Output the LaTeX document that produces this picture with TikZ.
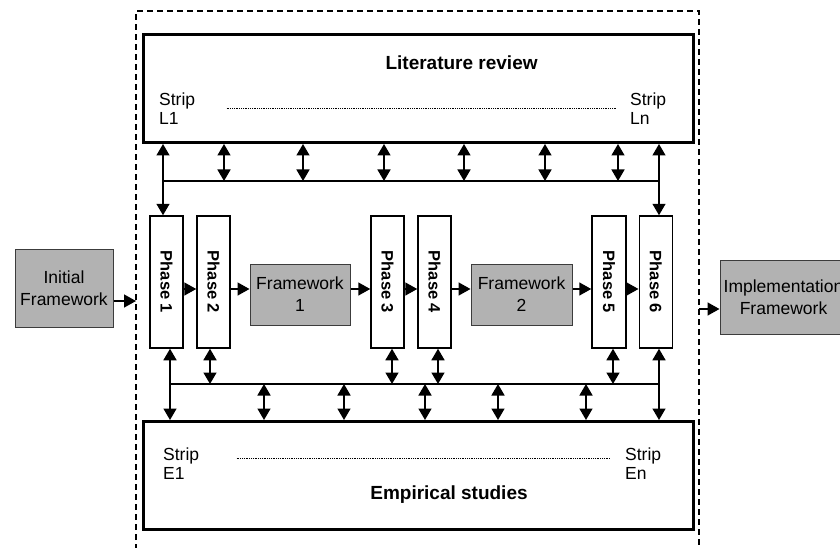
\documentclass[tikz,border=0pt]{standalone}
\usepackage{fontspec}
\setmainfont{Liberation Sans}
\usetikzlibrary{arrows.meta}
\definecolor{fwgray}{RGB}{178,178,178}
\definecolor{fwline}{RGB}{60,60,60}
\begin{document}
\begin{tikzpicture}[x=1pt,y=-1pt,
  bigbox/.style={draw, line width=3pt, minimum width=550pt, minimum height=108pt, inner sep=0pt},
  phasebox/.style={draw, line width=1.5pt, minimum width=33pt, minimum height=132pt, inner sep=0pt, fill=white, font=\fontsize{16.5}{18}\selectfont\bfseries},
  fwbox/.style={draw=fwline, line width=1pt, fill=fwgray, minimum width=100pt, minimum height=61pt, align=center, inner sep=0pt, font=\fontsize{17.5}{22}\selectfont},
  conn/.style={line width=1.5pt},
  arr/.style={line width=1.5pt, -{Triangle[length=12pt,width=13pt]}},
  dbl/.style={line width=1.5pt, {Triangle[length=11.5pt,width=13pt]}-{Triangle[length=11.5pt,width=13pt]}},
  lbl/.style={font=\fontsize{17.5}{19}\selectfont, align=left, inner sep=0pt, anchor=west},
  ttl/.style={font=\fontsize{19}{22}\selectfont\bfseries, inner sep=0pt},
  dotline/.style={line width=0.8pt, densely dotted},
  frame/.style={line width=1.2pt, dash pattern=on 6pt off 4pt}
]
\useasboundingbox (0,0) rectangle (840,548);
\fill[white] (0,0) rectangle (840,548);

% dashed frame
\coordinate (fl) at (136,11);
\coordinate (fr) at (699,11);
\draw[frame] (136,560) -- (fl) -- (fr) -- (699,560);

% big boxes
\node[bigbox] (lit) at (418,88.5) {};
\node[bigbox] (emp) at (418,475.5) {};
\node[ttl] (littxt) at (461.6,63) {Literature review};
\node[ttl] (emptxt) at (449,495) {Empirical studies};
\node[lbl] (sl1) at (159,109) {Strip\\L1};
\node[lbl] (sln) at (630,109) {Strip\\Ln};
\node[lbl] (se1) at (163,464) {Strip\\E1};
\node[lbl] (sen) at (625,464) {Strip\\En};
\draw[dotline] (226.6,108) -- (616.6,108);
\draw[dotline] (236.5,458) -- (610,458);

% phases
\node[phasebox] (p1) at (166.5,282) {\rotatebox{-90}{Phase 1}};
\node[phasebox] (p2) at (213.5,282) {\rotatebox{-90}{Phase 2}};
\node[phasebox] (p3) at (387.5,282) {\rotatebox{-90}{Phase 3}};
\node[phasebox] (p4) at (434.5,282) {\rotatebox{-90}{Phase 4}};
\node[phasebox, minimum width=34pt] (p5) at (609,282) {\rotatebox{-90}{Phase 5}};
\node[phasebox] (p6) at (655.75,282) {\rotatebox{-90}{Phase 6}};

% frameworks
\node[fwbox] (f1) at (300,294.5) {Framework\\1};
\node[fwbox, minimum width=101pt] (f2) at (521.5,294.5) {Framework\\2};
\node[fwbox, minimum width=98pt, minimum height=78pt] (init) at (64,288) {Initial\\Framework};
\node[fwbox, minimum width=127pt, minimum height=74pt] (impl) at (783.5,297) {Implementation\\Framework};

% chain arrows
\draw[arr] ([yshift=-13pt]init.east) -- ([yshift=-13pt]init.east -| fl);
\draw[arr] (fr |- 0,309) -- (impl.west |- 0,309);
\draw[arr] (p1.east |- 0,289) -- (p2.west |- 0,289);
\draw[arr] (p2.east |- 0,289) -- (f1.west |- 0,289);
\draw[arr] (f1.east |- 0,289) -- (p3.west |- 0,289);
\draw[arr] (p3.east |- 0,289) -- (p4.west |- 0,289);
\draw[arr] (p4.east |- 0,289) -- (f2.west |- 0,289);
\draw[arr] (f2.east |- 0,289) -- (p5.west |- 0,289);
\draw[arr] (p5.east |- 0,289) -- (p6.west |- 0,289);

% top connectors
\coordinate (tl) at (163,181);
\coordinate (tr) at (659,181);
\draw[conn] (tl) -- (tr);
\draw[dbl] (lit.south -| tl) -- (p1.north -| tl);
\draw[dbl] (lit.south -| tr) -- (p6.north -| tr);
\foreach \x in {224,303,384,464,545,618}
  \draw[dbl] (lit.south -| \x,0) -- (tl -| \x,0);

% bottom connectors
\coordinate (bl) at (170,384);
\coordinate (br) at (659,384);
\draw[conn] (bl) -- (br);
\draw[dbl] (p1.south -| bl) -- (emp.north -| bl);
\draw[dbl] (p6.south -| br) -- (emp.north -| br);
\draw[dbl] (p2.south -| 210,0) -- (bl -| 210,0);
\draw[dbl] (p3.south -| 392,0) -- (bl -| 392,0);
\draw[dbl] (p4.south -| 438,0) -- (bl -| 438,0);
\draw[dbl] (p5.south -| 613,0) -- (bl -| 613,0);
\foreach \x in {264,344,425,498,586}
  \draw[dbl] (bl -| \x,0) -- (emp.north -| \x,0);
\end{tikzpicture}
\end{document}
